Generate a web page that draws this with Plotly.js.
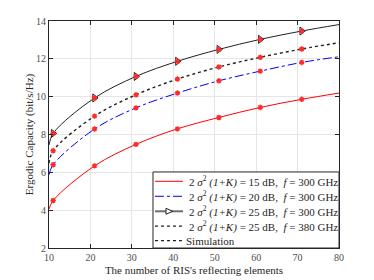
<!DOCTYPE html>
<html>
<head>
<meta charset="utf-8">
<script src="https://cdn.plot.ly/plotly-3.0.1.min.js"></script>
<style>html,body{margin:0;padding:0;background:#fff;}#chart{width:374px;height:280px;}</style>
</head>
<body>
<div id="chart"></div>
<script>
// x positions of the analytical curves (N)
const xLine = [10, 11, 21, 31, 41, 51, 61, 71, 80];
const cap15_300 = [4.05, 4.51, 6.34, 7.48, 8.30, 8.90, 9.43, 9.86, 10.19];
const cap20_300 = [5.87, 6.40, 8.29, 9.41, 10.19, 10.84, 11.35, 11.81, 12.11];
const cap25_300 = [7.44, 8.06, 9.93, 11.07, 11.87, 12.50, 13.03, 13.47, 13.81];
const cap25_380 = [6.48, 7.14, 8.97, 10.10, 10.93, 11.57, 12.08, 12.52, 12.85];

// simulation points
const xSim = [11, 21, 31, 41, 51, 61, 71];
const sim15_300 = [4.51, 6.34, 7.48, 8.30, 8.90, 9.43, 9.86];
const sim20_300 = [6.40, 8.29, 9.41, 10.19, 10.84, 11.35, 11.81];
const sim25_300 = [8.06, 9.93, 11.07, 11.87, 12.50, 13.03, 13.47];
const sim25_380 = [7.14, 8.97, 10.10, 10.93, 11.57, 12.08, 12.52];

// legend labels
const legendLabels = [
  "2 <i>σ</i><sup>2</sup> <i>(1+K)</i> = 15 dB,  <i>f</i> = 300 GHz",
  "2 <i>σ</i><sup>2</sup> <i>(1+K)</i> = 20 dB,  <i>f</i> = 300 GHz",
  "2 <i>σ</i><sup>2</sup> <i>(1+K)</i> = 25 dB,  <i>f</i> = 300 GHz",
  "2 <i>σ</i><sup>2</sup> <i>(1+K)</i> = 25 dB,  <i>f</i> = 380 GHz",
  "Simulation"
];

const simMarker = {symbol: 'asterisk-open', size: 4.5, color: '#ff2a2a', line: {color: '#ff2a2a', width: 1.4}};

const styles = [
  {color: '#ff0000', width: 1},
  {color: '#0000ff', width: 1, dash: 'dashdot'},
  {color: '#222222', width: 1},
  {color: '#222222', width: 1.4, dash: 'dot'}
];

const traces = [
  {x: xLine, y: cap15_300, mode: 'lines', name: 'a', line: Object.assign({shape: 'spline'}, styles[0])},
  {x: xLine, y: cap20_300, mode: 'lines', name: 'b', line: Object.assign({shape: 'spline'}, styles[1])},
  {x: xLine, y: cap25_300, mode: 'lines', name: 'c', line: Object.assign({shape: 'spline'}, styles[2])},
  {x: xLine, y: cap25_380, mode: 'lines', name: 'd', line: Object.assign({shape: 'spline'}, styles[3])},
  {x: xSim, y: sim25_300, mode: 'markers', marker: {symbol: 'triangle-right-open', size: 7, color: '#222', line: {width: 1}}},
  {x: xSim, y: sim15_300, mode: 'markers', marker: simMarker},
  {x: xSim, y: sim20_300, mode: 'markers', marker: simMarker},
  {x: xSim, y: sim25_300, mode: 'markers', marker: simMarker},
  {x: xSim, y: sim25_380, mode: 'markers', marker: simMarker}
];

const serif = 'Liberation Serif, Times New Roman, serif';

// ---- hand-drawn legend box (paper coordinates) ----
const L = {x0: 0.3586, x1: 1, y0: 0, y1: 0.335};
const rowY = [0.2938, 0.2278, 0.1617, 0.0960, 0.0322];
const sx0 = 0.3655, sx1 = 0.462, tx = 0.476;
const sampleStyles = [
  styles[0], styles[1], {color: '#6e6e6e', width: 2}, {color: '#222222', width: 1.3, dash: 'dot'}, {color: '#222222', width: 1.3, dash: 'dot'}
];
const shapes = [
  {type: 'rect', xref: 'paper', yref: 'paper', x0: L.x0, x1: L.x1, y0: L.y0, y1: L.y1,
   fillcolor: '#ffffff', line: {color: '#262626', width: 1}, layer: 'above'}
];
const annotations = [];
rowY.forEach((yy, i) => {
  shapes.push({type: 'line', xref: 'paper', yref: 'paper', x0: sx0, x1: sx1, y0: yy, y1: yy,
    line: sampleStyles[i], layer: 'above'});
  annotations.push({xref: 'paper', yref: 'paper', x: (i === 4 ? 0.467 : tx), y: yy, xanchor: 'left', yanchor: 'middle',
    text: legendLabels[i], showarrow: false, font: {family: serif, size: 11, color: '#262626'}});
});
// triangle glyph on the 3rd sample line
shapes.push({type: 'path', xref: 'paper', yref: 'paper',
  path: 'M 0.4034,' + (rowY[2] + 0.0132) + ' L 0.4265,' + rowY[2] + ' L 0.4034,' + (rowY[2] - 0.0132) + ' Z',
  fillcolor: '#ffffff', line: {color: '#222222', width: 1}, layer: 'above'});

const layout = {
  width: 374, height: 280,
  margin: {l: 49, r: 35, t: 21, b: 32},
  paper_bgcolor: '#fff', plot_bgcolor: '#fff',
  font: {family: serif, size: 10, color: '#4d4d4d'},
  showlegend: false,
  shapes: shapes,
  annotations: annotations,
  xaxis: {
    range: [10, 80], tickvals: [10, 20, 30, 40, 50, 60, 70, 80],
    showgrid: true, gridcolor: '#e6e6e6', gridwidth: 1,
    showline: true, linecolor: '#262626', linewidth: 1, mirror: 'ticks',
    ticks: 'inside', ticklen: 4, tickcolor: '#262626',
    zeroline: false, tickfont: {size: 10, color: '#4d4d4d'},
    title: {text: "The number of RIS's reflecting elements", font: {size: 11, color: '#262626'}, standoff: 4}
  },
  yaxis: {
    range: [2, 14], tickvals: [2, 4, 6, 8, 10, 12, 14],
    showgrid: true, gridcolor: '#e6e6e6', gridwidth: 1,
    showline: true, linecolor: '#262626', linewidth: 1, mirror: 'ticks',
    ticks: 'inside', ticklen: 4, tickcolor: '#262626',
    zeroline: false, tickfont: {size: 10, color: '#4d4d4d'},
    title: {text: 'Ergodic Capacity (bit/s/Hz)', font: {size: 11, color: '#262626'}, standoff: 0}
  }
};

Plotly.newPlot('chart', traces, layout, {staticPlot: true, displayModeBar: false});
</script>
</body>
</html>
